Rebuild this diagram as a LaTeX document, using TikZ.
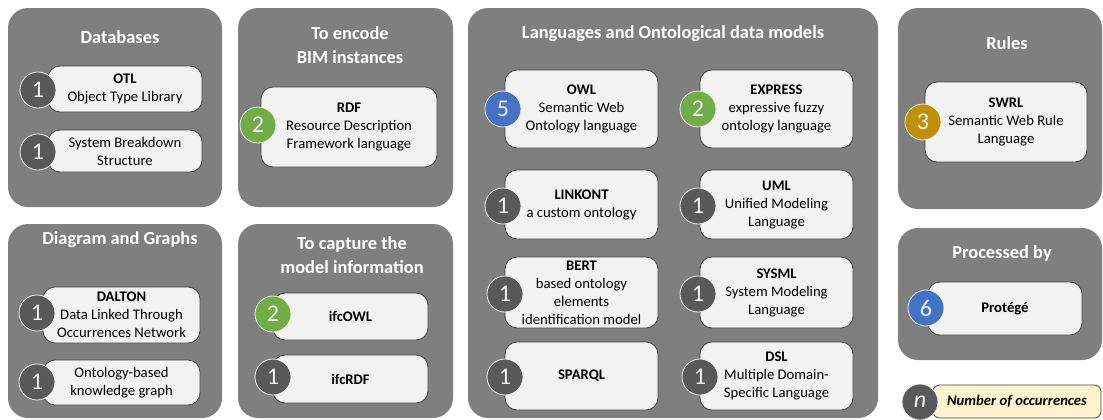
\documentclass[tikz,border=0pt]{standalone}
\usepackage{fontspec}
\setmainfont{Carlito}
\usetikzlibrary{positioning}
\definecolor{PanelGray}{HTML}{7F7F7F}
\definecolor{BoxFill}{HTML}{F2F2F2}
\definecolor{BoxLine}{HTML}{404040}
\definecolor{CountGray}{HTML}{595959}
\definecolor{CountGreen}{HTML}{70AD47}
\definecolor{CountBlue}{HTML}{4472C4}
\definecolor{CountGold}{HTML}{BF9000}
\definecolor{NoteFill}{HTML}{FFF2CC}

\begin{document}
\begin{tikzpicture}[
    x=0.75pt,y=-0.75pt,
    panel/.style={rectangle,rounded corners=15pt,fill=PanelGray,inner sep=0pt},
    ptitle/.style={font=\fontsize{13.8}{18}\selectfont\bfseries,text=white,align=center},
    tbox/.style={rectangle,rounded corners=9pt,draw=BoxLine,fill=BoxFill,line width=0.6pt,
      align=center,inner sep=0pt,font=\fontsize{11}{13.5}\selectfont},
    cnt/.style={circle,draw=BoxFill,fill=CountGray,line width=0.6pt,minimum size=27pt,
      inner sep=0pt,font=\fontsize{18}{18}\selectfont,text=BoxFill},
    cgreen/.style={cnt,fill=CountGreen},
    cblue/.style={cnt,fill=CountBlue},
    cgold/.style={cnt,fill=CountGold},
  ]
  \useasboundingbox (0,0) rectangle (1103,419);
  \clip (0,0) rectangle (1103,419);
  % Panels (grey groups)
  \node[panel,minimum width=160.5pt,minimum height=149.25pt] (pdb) at (115,107.5) {};
  \node[panel,minimum width=160.5pt,minimum height=145.5pt] (pdg) at (115,321) {};
  \node[panel,minimum width=161.25pt,minimum height=149.25pt] (penc) at (345.5,107.5) {};
  \node[panel,minimum width=161.25pt,minimum height=145.5pt] (pcap) at (345.5,321) {};
  \node[panel,minimum width=307.5pt,minimum height=307.5pt] (plang) at (673,213) {};
  \node[panel,minimum width=153pt,minimum height=150.75pt] (prule) at (1000,108.5) {};
  \node[panel,minimum width=153pt,minimum height=99pt] (pproc) at (1000,294) {};
  % Panel titles
  \node[ptitle] (tdb) at (120,37) {Databases};
  \node[ptitle] (tdg) at (120,240) {Diagram and Graphs};
  \node[ptitle] (tenc) at (350,45) {To encode\\BIM instances};
  \node[ptitle] (tcap) at (352,255.5) {To capture the\\model information};
  \node[ptitle] (tlang) at (673,34) {Languages and Ontological data models};
  \node[ptitle] (trule) at (1007,43) {Rules};
  \node[ptitle] (tproc) at (1002,253) {Processed by};
  % Databases
  \node[tbox,minimum width=115.5pt,minimum height=34.5pt] (otl) at (125,89) {\textbf{OTL}\\Object Type Library};
  \node[cnt] (cotl) at (38,90) {1};
  \node[tbox,minimum width=115.5pt,minimum height=31.5pt] (sbs) at (125,151) {System Breakdown\\Structure};
  \node[cnt] (csbs) at (38,152) {1};
  % Diagram and Graphs
  \node[tbox,minimum width=117.75pt,minimum height=42pt] (dalton) at (121.5,315) {\textbf{DALTON}\\Data Linked Through\\Occurrences Network};
  \node[cnt] (cdalton) at (37,313) {1};
  \node[tbox,minimum width=117.75pt,minimum height=33.75pt] (okg) at (121.5,382.5) {Ontology-based\\knowledge graph};
  \node[cnt] (cokg) at (37,382) {1};
  % To encode BIM instances
  \node[tbox,minimum width=132pt,minimum height=60pt] (rdf) at (349,127) {\textbf{RDF}\\Resource Description\\Framework language};
  \node[cgreen] (crdf) at (258,125) {2};
  % To capture the model information
  \node[tbox,minimum width=116.25pt,minimum height=35.25pt,font=\fontsize{11}{13.5}\selectfont\bfseries] (ifcowl) at (350.5,316.5) {ifcOWL};
  \node[cgreen] (cifcowl) at (273,314) {2};
  \node[tbox,minimum width=116.25pt,minimum height=36pt,font=\fontsize{11}{13.5}\selectfont\bfseries] (ifcrdf) at (350.5,379) {ifcRDF};
  \node[cnt] (cifcrdf) at (273,377) {1};
  % Languages and Ontological data models
  \node[tbox,minimum width=114.75pt,minimum height=58.5pt] (owl) at (581.5,109) {\textbf{OWL}\\Semantic Web\\Ontology language};
  \node[cblue] (cowl) at (503,109) {5};
  \node[tbox,minimum width=114.75pt,minimum height=58.5pt] (express) at (776.5,109) {\textbf{EXPRESS}\\expressive fuzzy\\ontology language};
  \node[cgreen] (cexpress) at (698,109) {2};
  \node[tbox,minimum width=114.75pt,minimum height=51.75pt] (linkont) at (581.5,204.5) {\textbf{LINKONT}\\a custom ontology};
  \node[cnt] (clinkont) at (503,206) {1};
  \node[tbox,minimum width=114.75pt,minimum height=51.75pt] (uml) at (776.5,204.5) {\textbf{UML}\\Unified Modeling\\Language};
  \node[cnt] (cuml) at (698,206) {1};
  \node[tbox,minimum width=114.75pt,minimum height=53.25pt] (bert) at (581.5,292.5) {\textbf{BERT}\\based ontology\\elements\\identification model};
  \node[cnt] (cbert) at (505,294) {1};
  \node[tbox,minimum width=114.75pt,minimum height=53.25pt] (sysml) at (776.5,292.5) {\textbf{SYSML}\\System Modeling\\Language};
  \node[cnt] (csysml) at (698,294) {1};
  \node[tbox,minimum width=114.75pt,minimum height=51pt,font=\fontsize{11}{13.5}\selectfont\bfseries] (sparql) at (581.5,376) {SPARQL};
  \node[cnt] (csparql) at (505,377) {1};
  \node[tbox,minimum width=114.75pt,minimum height=51pt] (dsl) at (776.5,376) {\textbf{DSL}\\Multiple Domain-\\Specific Language};
  \node[cnt] (cdsl) at (700,377) {1};
  % Rules
  \node[tbox,minimum width=121.5pt,minimum height=60pt] (swrl) at (1006,122) {\textbf{SWRL}\\Semantic Web Rule\\Language};
  \node[cgold] (cswrl) at (923,122) {3};
  % Processed by
  \node[tbox,minimum width=115.5pt,minimum height=39.75pt,font=\fontsize{11}{13.5}\selectfont\bfseries] (protege) at (1005,308.5) {Protégé};
  \node[cblue] (cprotege) at (926,308) {6};
  % Legend
  \node[tbox,fill=NoteFill,rounded corners=5pt,minimum width=126pt,minimum height=24.75pt,
    font=\fontsize{11}{13.5}\selectfont\bfseries\itshape] (note) at (1017,401.5) {Number of occurrences};
  \node[cnt,font=\fontsize{18}{18}\selectfont\itshape] (cnote) at (920,402) {n};
\end{tikzpicture}
\end{document}
